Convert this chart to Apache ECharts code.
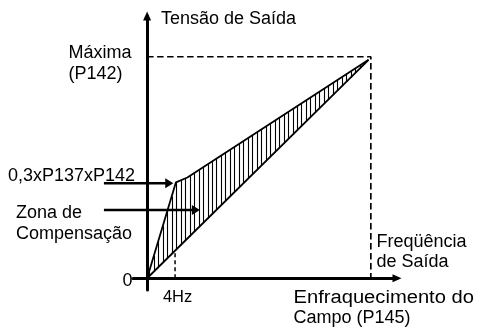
<!DOCTYPE html>
<html>
<head>
<meta charset="utf-8">
<script src="https://cdn.jsdelivr.net/npm/echarts@6/dist/echarts.min.js"></script>
<style>
  html, body { margin: 0; padding: 0; background: #fff; }
  #main { width: 481px; height: 328px; }
</style>
</head>
<body>
<div id="main"></div>
<script>
// curves, in % of rated frequency (x) and % of max voltage (y)
var upperLine = [[0, 0], [10, 33.6], [12.9, 43.3], [18, 45.5], [99, 98.6]];
var lowerLine = [[0, 0], [99, 98.6]];
var maxLevel = 100;      // P142 / P145 corner
var fourHz = 12.5;       // x of the 4Hz mark

// tick labels
var xTickValues = [12.5];
var xTickLabels = ['4Hz'];
var yTickValues = [0];
var yTickLabels = ['0'];

// annotation pointers: [tail, tip] in data units
var kneePointer = [[-19.3, 42.9], [11.7, 42.9]];
var zonePointer = [[-19.3, 30.8], [23.6, 30.8]];

var FONT = "'Liberation Sans', Arial, sans-serif";
var FS = 18;

// linear interpolation along a polyline
function interp(line, x) {
  for (var i = 1; i < line.length; i++) {
    if (x <= line[i][0]) {
      var a = line[i - 1], b = line[i];
      return a[1] + (b[1] - a[1]) * (x - a[0]) / (b[0] - a[0]);
    }
  }
  return line[line.length - 1][1];
}

var chartDom = document.getElementById('main');
var myChart = echarts.init(chartDom);

function txt(text, x, y, extra, align) {
  var el = {
    type: 'text',
    x: x, y: y,
    silent: true,
    style: {
      text: text,
      x: 0, y: 0,
      fontSize: FS,
      fontFamily: FONT,
      fill: '#000',
      textAlign: align || 'left', align: align || 'left',
      textVerticalAlign: 'middle', verticalAlign: 'middle'
    }
  };
  if (extra) Object.assign(el, extra);
  return el;
}

var axisCommon = {
  type: 'value',
  axisLine: {
    onZero: true,
    symbol: ['none', 'triangle'],
    symbolSize: [8, 9],
    lineStyle: {color: '#000', width: 3}
  },
  axisTick: {show: false},
  splitLine: {show: false},
  axisLabel: {show: false}
};

var option = {
  backgroundColor: '#fff',
  animation: false,
  grid: {left: 133, right: 84, top: 16, bottom: 38},
  xAxis: Object.assign({min: -6.3, max: 111.7}, axisCommon),
  yAxis: Object.assign({min: -5.3, max: 118.4}, axisCommon),
  series: [
    {
      // vertical hatching of the compensation zone
      type: 'custom',
      silent: true,
      clip: false,
      data: [[0, 0]],
      renderItem: function (params, api) {
        var children = [];
        var end = upperLine[upperLine.length - 1][0];
        for (var x = 1; x < end - 0.5; x += 2) {
          var p1 = api.coord([x, interp(lowerLine, x)]);
          var p2 = api.coord([x, interp(upperLine, x)]);
          var px = Math.round(p1[0]) + 0.5;
          children.push({
            type: 'line',
            shape: {x1: px, y1: p1[1], x2: px, y2: p2[1]},
            style: {stroke: '#000', lineWidth: 1.1}
          });
        }
        return {type: 'group', children: children};
      }
    },
    {
      type: 'line',
      data: upperLine,
      showSymbol: false,
      silent: true,
      lineStyle: {color: '#000', width: 1.8}
    },
    {
      type: 'line',
      data: lowerLine,
      showSymbol: false,
      silent: true,
      lineStyle: {color: '#000', width: 1.8}
    },
    {
      type: 'line',
      data: [[0, maxLevel], [maxLevel, maxLevel], [maxLevel, 0]],
      showSymbol: false,
      silent: true,
      lineStyle: {color: '#000', width: 1.7, type: [6.5, 3.5]}
    },
    {
      type: 'line',
      data: [[fourHz, 0], [fourHz, interp(lowerLine, fourHz)]],
      showSymbol: false,
      silent: true,
      lineStyle: {color: '#000', width: 1.5, type: [4, 3]}
    }
  ]
};

var texts = [
  txt('Tensão de Saída', 161, 19),
  txt('Máxima', 68.5, 52.7),
  txt('(P142)', 68.5, 74),
  txt('0,3xP137xP142', 8, 176),
  txt('Zona de', 16, 213),
  txt('Compensação', 16, 234.5),
  txt('Freqüência', 376.5, 242),
  txt('de Saída', 376.5, 262.5),
  txt('Enfraquecimento do', 293.5, 298, {scaleX: 1.12}),
  txt('Campo (P145)', 293.5, 318)
];

myChart.setOption(option);

// pointer arrows, placed through the grid's own scales
function pointer(id, p) {
  var a = myChart.convertToPixel({gridIndex: 0}, p[0]);
  var b = myChart.convertToPixel({gridIndex: 0}, p[1]);
  return [
    {
      type: 'line', id: id + 'L', silent: true, z: 20,
      shape: {x1: a[0], y1: a[1], x2: b[0] - 6, y2: b[1]},
      style: {stroke: '#000', lineWidth: 2.6}
    },
    {
      type: 'polygon', id: id + 'H', silent: true, z: 20,
      shape: {points: [[b[0], b[1]], [b[0] - 8, b[1] - 5], [b[0] - 8, b[1] + 5]]},
      style: {fill: '#000'}
    }
  ];
}

// tick labels at their axis values
xTickValues.forEach(function (v, i) {
  var p = myChart.convertToPixel({gridIndex: 0}, [v, 0]);
  var t = txt(xTickLabels[i], p[0] + 2.5, p[1] + 19.5, null, 'center');
  t.style.fontSize = 16.5;
  texts.push(t);
});
yTickValues.forEach(function (v, i) {
  var p = myChart.convertToPixel({gridIndex: 0}, [0, v]);
  texts.push(txt(yTickLabels[i], p[0] - 14.5, p[1] + 2.5, null, 'right'));
});

myChart.setOption({
  graphic: texts.concat(pointer('knee', kneePointer), pointer('zone', zonePointer))
});
</script>
</body>
</html>
